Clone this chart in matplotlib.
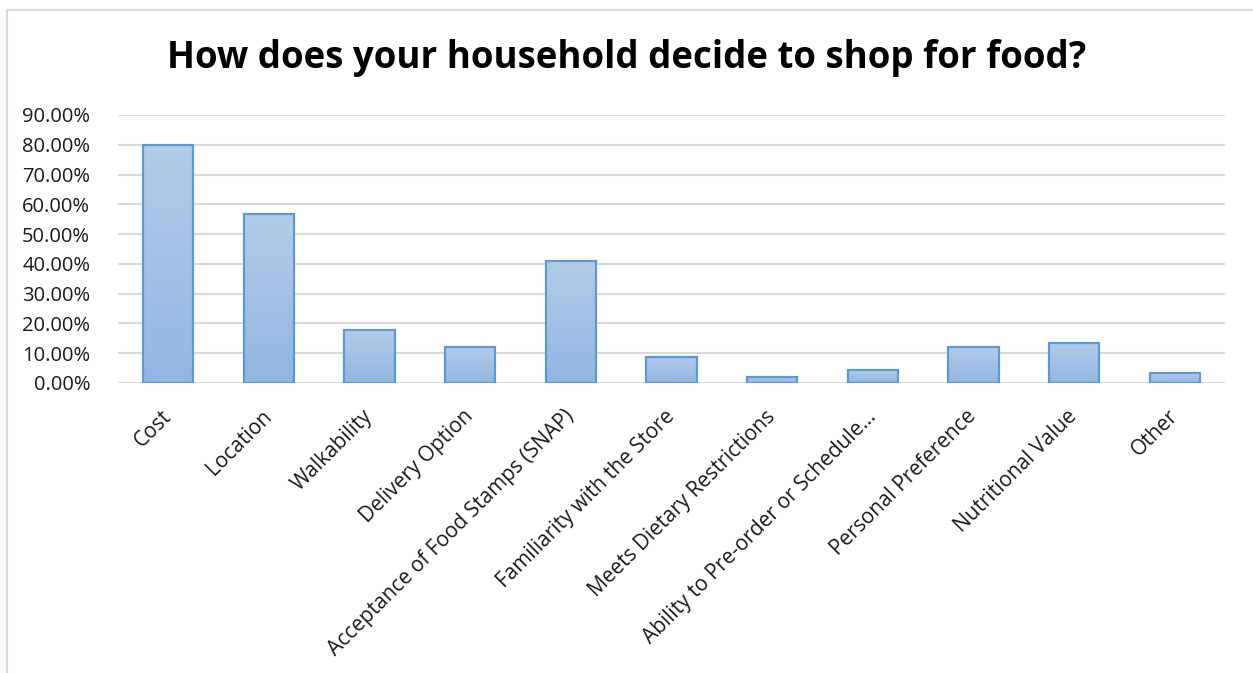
import matplotlib.pyplot as plt
import numpy as np
from matplotlib.patches import Rectangle
from matplotlib.colors import LinearSegmentedColormap
from matplotlib.ticker import FuncFormatter

plt.rcParams['font.family'] = ['Open Sans', 'DejaVu Sans']

categories = ['Cost', 'Location', 'Walkability', 'Delivery Option',
              'Acceptance of Food Stamps (SNAP)', 'Familiarity with the Store',
              'Meets Dietary Restrictions', 'Ability to Pre-order or Schedule\u2026',
              'Personal Preference', 'Nutritional Value', 'Other']
shares = [0.800, 0.566, 0.178, 0.121, 0.410, 0.088, 0.021, 0.043, 0.122, 0.133, 0.032]
y_ticks = [0.0, 0.1, 0.2, 0.3, 0.4, 0.5, 0.6, 0.7, 0.8, 0.9]

W, H = 1253, 673
fig = plt.figure(figsize=(W / 100, H / 100), dpi=100)
ax = fig.add_axes([118 / W, 1 - 383 / H, (1225 - 118) / W, (383 - 115) / H])

x = np.arange(len(categories))
bars = ax.bar(x, shares, width=0.5, facecolor='none', edgecolor='#5b9bd5',
              linewidth=1.6, zorder=3)

# vertical gradient inside each bar, light at top, darker at bottom
grad = np.linspace(0, 1, 256).reshape(-1, 1)
cmap = LinearSegmentedColormap.from_list('barfill', ['#92b6e2', '#b3cce9'])
for b in bars:
    x0, w, h = b.get_x(), b.get_width(), b.get_height()
    im = ax.imshow(grad, cmap=cmap, origin='lower', aspect='auto',
                   extent=[x0, x0 + w, 0, h], zorder=2)
    im.set_clip_path(b)

ax.set_xlim(-0.5, len(categories) - 0.5)
ax.set_ylim(0, 0.9)
ax.set_yticks(y_ticks)
ax.yaxis.set_major_formatter(FuncFormatter(lambda v, p: f'{v * 100:.2f}%'))
ax.grid(axis='y', color='#d9d9d9', linewidth=1.5, zorder=0)
ax.set_axisbelow(True)
for s in ax.spines.values():
    s.set_visible(False)
ax.tick_params(axis='both', length=0, labelsize=14.5, colors='#1a1a1a')
ax.tick_params(axis='y', pad=20)
ax.set_xticks(x)
ax.set_xticklabels(categories, rotation=45, ha='right', va='center',
                   rotation_mode='anchor', fontsize=15)
ax.tick_params(axis='x', pad=22)

fig.text(0.5, 1 - 58 / H, 'How does your household decide to shop for food?',
         ha='center', va='center', fontsize=26.4, fontweight='bold')

# chart frame
fig.patches.append(Rectangle((7 / W, -0.1), 1.2, 1 - 10 / H + 0.1,
                             transform=fig.transFigure, fill=False,
                             edgecolor='#d9d9d9', linewidth=1.5))

fig.savefig('out.png', dpi=100)
